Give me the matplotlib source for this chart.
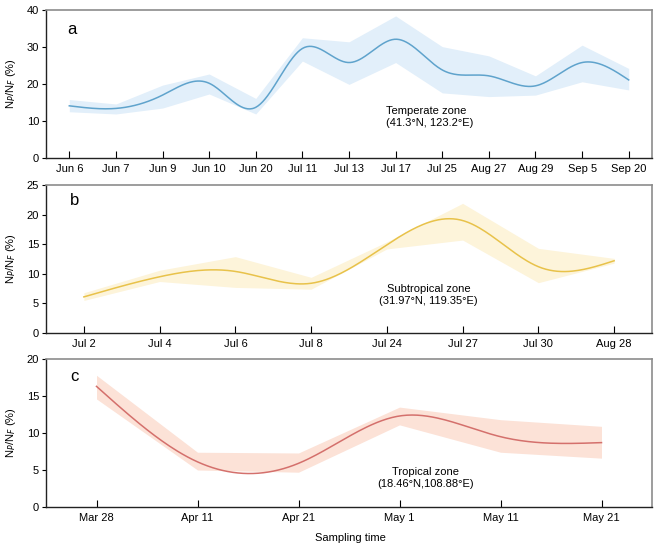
import numpy as np
import matplotlib
matplotlib.use("Agg")
import matplotlib.pyplot as plt

plt.rcParams['font.family'] = ['Liberation Sans', 'DejaVu Sans']
plt.rcParams['font.size'] = 8

# panel a - temperate zone
dates_a = ["Jun 6", "Jun 7", "Jun 9", "Jun 10", "Jun 20", "Jul 11", "Jul 13",
           "Jul 17", "Jul 25", "Aug 27", "Aug 29", "Sep 5", "Sep 20"]
mean_a = [14.1, 13.4, 17.0, 20.2, 13.7, 29.6, 25.8, 32.1, 23.8, 22.2, 19.5, 25.8, 21.1]
upper_a = [15.8, 14.6, 19.7, 22.7, 16.1, 32.5, 31.4, 38.4, 30.1, 27.6, 22.2, 30.5, 24.2]
lower_a = [12.5, 11.9, 13.5, 17.3, 11.9, 26.2, 19.9, 25.8, 17.6, 16.6, 17.0, 20.6, 18.4]

# panel b - subtropical zone
dates_b = ["Jul 2", "Jul 4", "Jul 6", "Jul 8", "Jul 24", "Jul 27", "Jul 30", "Aug 28"]
mean_b = [6.1, 9.5, 10.4, 8.4, 14.9, 19.0, 11.2, 12.2]
upper_b = [6.8, 10.6, 12.9, 9.4, 15.4, 21.9, 14.3, 12.6]
lower_b = [5.5, 8.7, 7.7, 7.4, 14.2, 15.7, 8.5, 11.8]

# panel c - tropical zone
dates_c = ["Mar 28", "Apr 11", "Apr 21", "May 1", "May 11", "May 21"]
mean_c = [16.3, 6.1, 5.9, 12.3, 9.5, 8.7]
upper_c = [17.8, 7.4, 7.3, 13.5, 11.8, 10.9]
lower_c = [14.6, 5.0, 4.7, 11.1, 7.4, 6.6]


def smooth(y, n=40):
    # natural cubic spline through the points, for drawing only
    y = np.asarray(y, float)
    k = len(y)
    A = np.zeros((k, k))
    r = np.zeros(k)
    A[0, 0] = A[-1, -1] = 1
    for i in range(1, k - 1):
        A[i, i - 1], A[i, i], A[i, i + 1] = 1, 4, 1
        r[i] = 6 * (y[i + 1] - 2 * y[i] + y[i - 1])
    M = np.linalg.solve(A, r)
    xs = np.linspace(0, k - 1, (k - 1) * n + 1)
    i = np.minimum(xs.astype(int), k - 2)
    t = xs - i
    ys = ((1 - t) * y[i] + t * y[i + 1]
          + ((1 - t) ** 3 - (1 - t)) * M[i] / 6 + (t ** 3 - t) * M[i + 1] / 6)
    return xs, ys


def panel(ax, dates, mean, upper, lower, line_c, band_c, ymax, ystep, letter, lpos):
    x = np.arange(len(dates))
    ax.fill_between(x, lower, upper, color=band_c, lw=0)
    xs, ys = smooth(mean)
    ax.plot(xs, ys, color=line_c, lw=1.1)
    ax.set_xticks(x)
    ax.set_xticklabels(dates)
    ax.set_xlim(-0.5, len(dates) - 0.5)
    ax.set_ylim(0, ymax)
    ax.set_yticks(np.arange(0, ymax + 1, ystep))
    ax.tick_params(axis='x', direction='in', length=5, width=0.8, pad=4)
    ax.tick_params(axis='y', direction='out', length=3, width=0.8, pad=2)
    for s in ['left', 'bottom']:
        ax.spines[s].set_color('#222222')
        ax.spines[s].set_linewidth(1.0)
    for s in ['top', 'right']:
        ax.spines[s].set_color('#8c8c8c')
        ax.spines[s].set_linewidth(1.2)
    ax.set_ylabel(r'N$_P$/N$_F$ (%)', labelpad=6)
    ax.text(lpos[0], lpos[1], letter, transform=ax.transAxes, fontsize=12,
            va='center', ha='left')


fig = plt.figure(figsize=(6.61, 5.5), dpi=100)
axa = fig.add_axes([46 / 661, 1 - 158 / 550, 606 / 661, 148 / 550])
axb = fig.add_axes([46 / 661, 1 - 333 / 550, 606 / 661, 148 / 550])
axc = fig.add_axes([46 / 661, 1 - 507 / 550, 606 / 661, 148 / 550])

panel(axa, dates_a, mean_a, upper_a, lower_a, '#5fa3cc', '#e2effa', 40, 10, 'a', (0.035, 0.865))
panel(axb, dates_b, mean_b, upper_b, lower_b, '#e8c24a', '#fdf4da', 25, 5, 'b', (0.04, 0.894))
panel(axc, dates_c, mean_c, upper_c, lower_c, '#d4706c', '#fce2d7', 20, 5, 'c', (0.04, 0.879))

axa.text(6.8, 14.0, 'Temperate zone\n(41.3°N, 123.2°E)', ha='left', va='top', linespacing=1.2)
axb.text(4.55, 8.2, 'Subtropical zone\n(31.97°N, 119.35°E)', ha='center', va='top', linespacing=1.2)
axc.text(3.26, 5.4, 'Tropical zone\n(18.46°N,108.88°E)', ha='center', va='top', linespacing=1.2)

fig.text(350 / 661, 1 - 538 / 550, 'Sampling time', ha='center', va='center')

fig.savefig('out.png', dpi=100)
